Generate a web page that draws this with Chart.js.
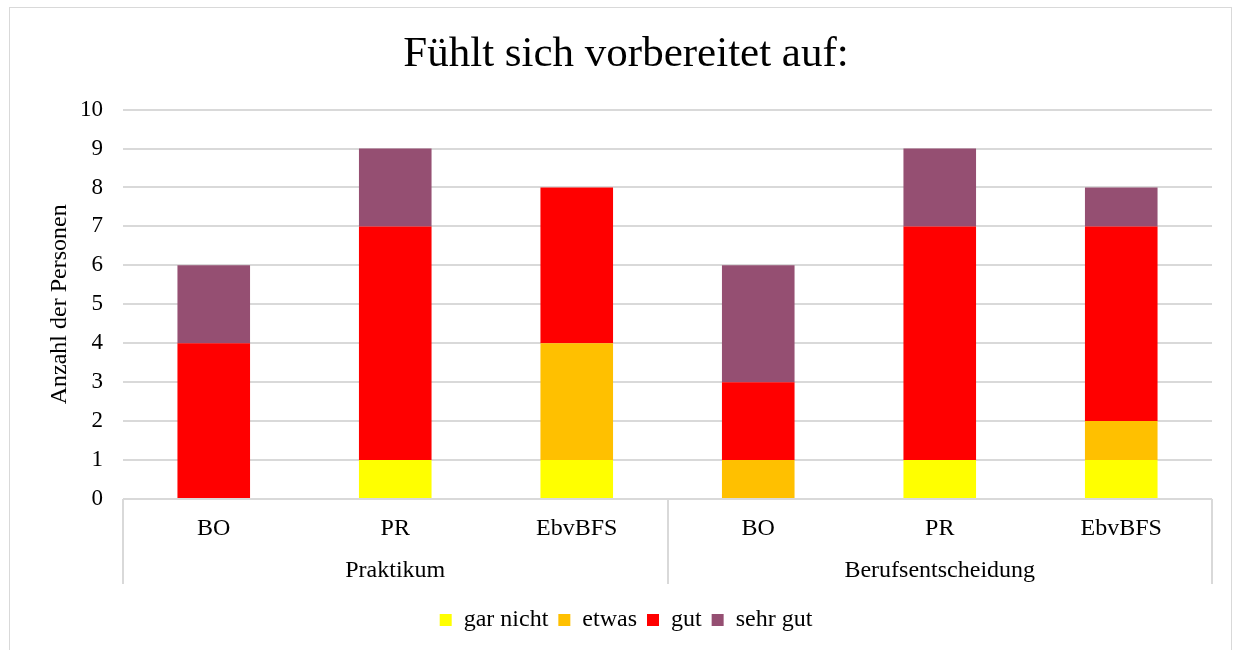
<!DOCTYPE html>
<html>
<head>
<meta charset="utf-8">
<script src="https://cdn.jsdelivr.net/npm/chart.js@4/dist/chart.umd.min.js"></script>
<style>
html,body{margin:0;padding:0;background:#fff;}
#wrap{width:1237px;height:650px;position:relative;}
</style>
</head>
<body>
<div id="wrap"><canvas id="c" width="1237" height="650"></canvas></div>
<script>
const titleText = 'Fühlt sich vorbereitet auf:';
const categories = ['BO', 'PR', 'EbvBFS', 'BO', 'PR', 'EbvBFS'];
const groups = ['Praktikum', 'Berufsentscheidung'];
const groupSize = 3;
const seriesNames = ['gar nicht', 'etwas', 'gut', 'sehr gut'];
const garNicht = [0, 1, 1, 0, 1, 1];
const etwas    = [0, 0, 3, 1, 0, 1];
const gut      = [4, 6, 4, 2, 6, 5];
const sehrGut  = [2, 2, 0, 3, 2, 1];
const yTicks = [0, 1, 2, 3, 4, 5, 6, 7, 8, 9, 10];
const yAxisTitle = 'Anzahl der Personen';

const colors = ['#FFFF00', '#FFC000', '#FF0000', '#954F72'];
const FONT = "'Liberation Serif', 'Times New Roman', serif";
const GRID = '#D9D9D9';

const seriesData = [garNicht, etwas, gut, sehrGut];

const groupPlugin = {
  id: 'groups',
  beforeDraw(chart) {
    const ctx = chart.ctx;
    ctx.save();
    ctx.fillStyle = '#fff';
    ctx.fillRect(0, 0, chart.width, chart.height);
    ctx.strokeStyle = GRID;
    ctx.lineWidth = 1;
    ctx.strokeRect(9.5, 7.5, 1222, 680);
    ctx.restore();
  },
  afterDraw(chart) {
    const ctx = chart.ctx;
    const x = chart.scales.x;
    const area = chart.chartArea;
    const bottom = area.bottom + 85;
    const bounds = [x.left];
    for (let g = 1; g < groups.length; g++) {
      const i = g * groupSize;
      bounds.push((x.getPixelForTick(i - 1) + x.getPixelForTick(i)) / 2);
    }
    bounds.push(x.right);
    ctx.save();
    ctx.strokeStyle = GRID;
    ctx.lineWidth = 2;
    bounds.forEach(b => {
      const xx = Math.round(b);
      ctx.beginPath();
      ctx.moveTo(xx, area.bottom);
      ctx.lineTo(xx, bottom);
      ctx.stroke();
    });
    ctx.fillStyle = '#000';
    ctx.font = '24px ' + FONT;
    ctx.textAlign = 'center';
    ctx.textBaseline = 'middle';
    groups.forEach((g, k) => {
      ctx.fillText(g, (bounds[k] + bounds[k + 1]) / 2, area.bottom + 72);
    });
    ctx.restore();
  }
};

new Chart(document.getElementById('c'), {
  type: 'bar',
  data: {
    labels: categories,
    datasets: seriesNames.map((n, i) => ({
      label: n,
      data: seriesData[i],
      backgroundColor: colors[i],
      borderWidth: 0,
      barPercentage: 0.8,
      categoryPercentage: 0.5
    }))
  },
  options: {
    responsive: false,
    animation: false,
    layout: { padding: { left: 40, right: 25, top: 0, bottom: 8 } },
    plugins: {
      title: {
        display: true,
        text: titleText,
        color: '#000',
        font: { family: FONT, size: 43, weight: 'normal' },
        padding: { top: 29, bottom: 29 }
      },
      legend: {
        position: 'bottom',
        labels: {
          color: '#000',
          font: { family: FONT, size: 24 },
          boxWidth: 12,
          boxHeight: 12,
          padding: 10
        }
      },
      tooltip: { enabled: false }
    },
    scales: {
      x: {
        stacked: true,
        grid: { display: false, drawTicks: false },
        border: { display: false },
        ticks: { color: '#000', font: { family: FONT, size: 24 }, padding: 15, maxRotation: 0 },
        afterFit(s) { s.height = 99; }
      },
      y: {
        stacked: true,
        min: 0,
        max: 10,
        afterBuildTicks(s) { s.ticks = yTicks.map(v => ({ value: v })); },
        grid: { color: GRID, lineWidth: 2, drawTicks: false },
        border: { display: false },
        ticks: { color: '#000', font: { family: FONT, size: 23 }, padding: 20 },
        title: {
          display: true,
          text: yAxisTitle,
          color: '#000',
          font: { family: FONT, size: 24 },
          padding: { top: 5, bottom: 0 }
        },
        afterFit(s) { s.width = 83; }
      }
    }
  },
  plugins: [groupPlugin]
});
</script>
</body>
</html>
